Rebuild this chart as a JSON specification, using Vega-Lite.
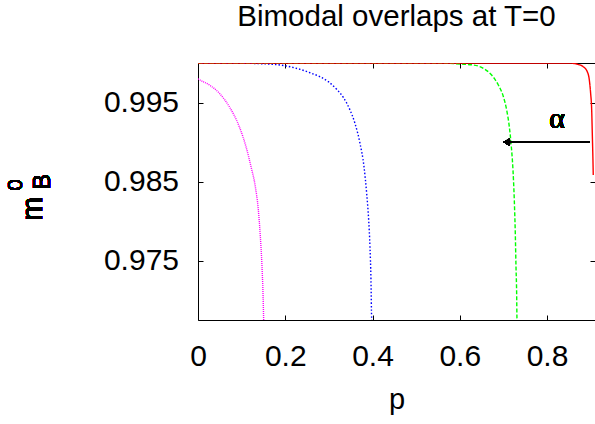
{
  "$schema": "https://vega.github.io/schema/vega-lite/v6.json",
  "width": 397,
  "height": 257,
  "autosize": {"type": "none"},
  "padding": {"left": 198, "top": 63, "right": 0, "bottom": 104},
  "background": "white",
  "title": {"text": "Bimodal overlaps at T=0", "font": "Liberation Sans", "fontSize": 29.5, "fontWeight": "normal", "anchor": "middle", "baseline": "alphabetic", "offset": 7, "color": "black"},
  "config": {
    "view": {"stroke": "black", "strokeWidth": 1},
    "axis": {"grid": false, "domain": false, "tickColor": "black", "tickWidth": 1, "labelColor": "black", "labelFont": "Liberation Sans", "labelFontSize": 30, "titleFont": "Liberation Sans", "titleFontSize": 29, "titleFontWeight": "normal", "titleColor": "black", "labelFlush": false, "labelOverlap": false}
  },
  "data": {"values": [
    {"s": "c1", "p": 0, "m": 0.9980},
    {"s": "c1", "p": 0.0046, "m": 0.99785},
    {"s": "c1", "p": 0.026, "m": 0.99722},
    {"s": "c1", "p": 0.049, "m": 0.99617},
    {"s": "c1", "p": 0.0718, "m": 0.99447},
    {"s": "c1", "p": 0.0947, "m": 0.99194},
    {"s": "c1", "p": 0.110, "m": 0.98942},
    {"s": "c1", "p": 0.1215, "m": 0.98689},
    {"s": "c1", "p": 0.1314, "m": 0.98436},
    {"s": "c1", "p": 0.1383, "m": 0.98141},
    {"s": "c1", "p": 0.1429, "m": 0.97804},
    {"s": "c1", "p": 0.1467, "m": 0.97424},
    {"s": "c1", "p": 0.149, "m": 0.97088},
    {"s": "c1", "p": 0.1505, "m": 0.9675},
    {"s": "c2", "p": 0, "m": 1.0},
    {"s": "c2", "p": 0.1, "m": 0.99997},
    {"s": "c2", "p": 0.15, "m": 0.9999},
    {"s": "c2", "p": 0.188, "m": 0.99975},
    {"s": "c2", "p": 0.211, "m": 0.99953},
    {"s": "c2", "p": 0.234, "m": 0.9992},
    {"s": "c2", "p": 0.2567, "m": 0.99877},
    {"s": "c2", "p": 0.2796, "m": 0.99826},
    {"s": "c2", "p": 0.2987, "m": 0.99764},
    {"s": "c2", "p": 0.3179, "m": 0.99667},
    {"s": "c2", "p": 0.333, "m": 0.99566},
    {"s": "c2", "p": 0.3484, "m": 0.99406},
    {"s": "c2", "p": 0.3598, "m": 0.99237},
    {"s": "c2", "p": 0.3713, "m": 0.98985},
    {"s": "c2", "p": 0.3805, "m": 0.98689},
    {"s": "c2", "p": 0.3866, "m": 0.98352},
    {"s": "c2", "p": 0.3912, "m": 0.98015},
    {"s": "c2", "p": 0.3942, "m": 0.97677},
    {"s": "c2", "p": 0.3965, "m": 0.97256},
    {"s": "c2", "p": 0.398, "m": 0.96772},
    {"s": "c2", "p": 0.3982, "m": 0.9675},
    {"s": "c3", "p": 0, "m": 1.0},
    {"s": "c3", "p": 0.5547, "m": 1.0},
    {"s": "c3", "p": 0.6005, "m": 0.99987},
    {"s": "c3", "p": 0.631, "m": 0.99975},
    {"s": "c3", "p": 0.654, "m": 0.99933},
    {"s": "c3", "p": 0.673, "m": 0.99848},
    {"s": "c3", "p": 0.6884, "m": 0.99722},
    {"s": "c3", "p": 0.700, "m": 0.99574},
    {"s": "c3", "p": 0.7075, "m": 0.99406},
    {"s": "c3", "p": 0.7136, "m": 0.99194},
    {"s": "c3", "p": 0.7182, "m": 0.98942},
    {"s": "c3", "p": 0.722, "m": 0.98647},
    {"s": "c3", "p": 0.725, "m": 0.98268},
    {"s": "c3", "p": 0.7273, "m": 0.97846},
    {"s": "c3", "p": 0.7289, "m": 0.97424},
    {"s": "c3", "p": 0.7304, "m": 0.97088},
    {"s": "c3", "p": 0.7311, "m": 0.96772},
    {"s": "c3", "p": 0.7312, "m": 0.9675},
    {"s": "c4", "p": 0, "m": 1.0},
    {"s": "c4", "p": 0.85, "m": 1.0},
    {"s": "c4", "p": 0.868, "m": 0.99987},
    {"s": "c4", "p": 0.883, "m": 0.99953},
    {"s": "c4", "p": 0.8923, "m": 0.9989},
    {"s": "c4", "p": 0.897, "m": 0.99785},
    {"s": "c4", "p": 0.900, "m": 0.99617},
    {"s": "c4", "p": 0.9024, "m": 0.99406},
    {"s": "c4", "p": 0.9038, "m": 0.99111},
    {"s": "c4", "p": 0.9053, "m": 0.98773},
    {"s": "c4", "p": 0.906, "m": 0.98584}
  ]},
  "layer": [
    {
      "mark": {"type": "line", "interpolate": "monotone", "strokeWidth": 1.4, "clip": true},
      "encoding": {
        "x": {"field": "p", "type": "quantitative", "scale": {"domain": [0, 0.91], "nice": false, "zero": false},
              "axis": {"orient": "bottom", "values": [0, 0.2, 0.4, 0.6, 0.8], "format": "~g", "tickSize": -5, "labelPadding": 26, "labelDx": 3, "title": "p", "titleBaseline": "alphabetic", "titlePadding": 37}},
        "y": {"field": "m", "type": "quantitative", "scale": {"domain": [0.9675, 1.0], "nice": false, "zero": false},
              "axis": {"orient": "left", "values": [0.975, 0.985, 0.995], "format": ".3f", "tickSize": -5, "labelPadding": 24.5, "title": null}},
        "color": {"field": "s", "type": "nominal", "scale": {"domain": ["c1", "c2", "c3", "c4"], "range": ["#ff00ff", "#0000ff", "#00ff00", "#ff0000"]}, "legend": null},
        "strokeDash": {"field": "s", "type": "nominal", "scale": {"domain": ["c1", "c2", "c3", "c4"], "range": [[1, 1], [1.5, 2], [4, 2], [1, 0]]}, "legend": null}
      }
    },
    {
      "mark": {"type": "rule", "color": "black", "strokeWidth": 2},
      "encoding": {
        "x": {"datum": 0.707, "type": "quantitative", "scale": {"domain": [0, 0.91], "nice": false, "zero": false},
              "axis": {"orient": "top", "values": [0.2, 0.4, 0.6, 0.8], "labels": false, "tickSize": -5, "title": null}},
        "x2": {"datum": 0.898},
        "y": {"datum": 0.990, "type": "quantitative", "scale": {"domain": [0.9675, 1.0], "nice": false, "zero": false},
              "axis": {"orient": "right", "values": [0.975, 0.985, 0.995], "labels": false, "tickSize": -5, "title": null}}
      }
    },
    {
      "mark": {"type": "point", "shape": "triangle-left", "filled": true, "color": "black", "opacity": 1, "size": 60},
      "encoding": {
        "x": {"datum": 0.7075, "type": "quantitative", "scale": {"domain": [0, 0.91], "nice": false, "zero": false}, "axis": null},
        "y": {"datum": 0.990, "type": "quantitative", "scale": {"domain": [0.9675, 1.0], "nice": false, "zero": false}, "axis": null}
      }
    },
    {
      "mark": {"type": "text", "text": "α", "font": "Liberation Serif", "fontSize": 30, "align": "center", "baseline": "alphabetic", "fill": "black"},
      "encoding": {
        "x": {"datum": 0.823, "type": "quantitative", "scale": {"domain": [0, 0.91], "nice": false, "zero": false}, "axis": null},
        "y": {"datum": 0.99178, "type": "quantitative", "scale": {"domain": [0.9675, 1.0], "nice": false, "zero": false}, "axis": null}
      }
    },
    {
      "mark": {"type": "text", "text": "m", "font": "Liberation Sans", "fontSize": 29, "angle": 270, "align": "center", "baseline": "alphabetic", "fill": "black"},
      "encoding": {
        "x": {"datum": -0.3578, "type": "quantitative", "scale": {"domain": [0, 0.91], "nice": false, "zero": false}, "axis": null},
        "y": {"datum": 0.98154, "type": "quantitative", "scale": {"domain": [0.9675, 1.0], "nice": false, "zero": false}, "axis": null}
      }
    },
    {
      "mark": {"type": "text", "text": "0", "font": "Liberation Sans", "fontSize": 21, "angle": 270, "align": "center", "baseline": "alphabetic", "fill": "black"},
      "encoding": {
        "x": {"datum": -0.4037, "type": "quantitative", "scale": {"domain": [0, 0.91], "nice": false, "zero": false}, "axis": null},
        "y": {"datum": 0.98457, "type": "quantitative", "scale": {"domain": [0.9675, 1.0], "nice": false, "zero": false}, "axis": null}
      }
    },
    {
      "mark": {"type": "text", "text": "B", "font": "Liberation Sans", "fontSize": 23, "angle": 270, "align": "center", "baseline": "alphabetic", "fill": "black"},
      "encoding": {
        "x": {"datum": -0.3394, "type": "quantitative", "scale": {"domain": [0, 0.91], "nice": false, "zero": false}, "axis": null},
        "y": {"datum": 0.98502, "type": "quantitative", "scale": {"domain": [0.9675, 1.0], "nice": false, "zero": false}, "axis": null}
      }
    }
  ],
  "resolve": {"axis": {"x": "independent", "y": "independent"}}
}
